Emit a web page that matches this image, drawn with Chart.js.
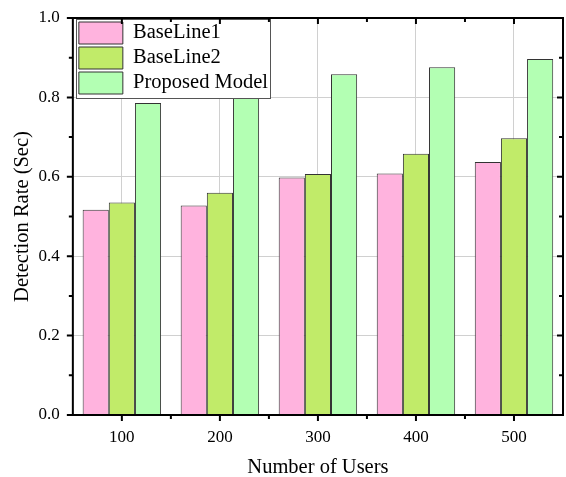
<!DOCTYPE html>
<html>
<head>
<meta charset="utf-8">
<script src="https://cdn.jsdelivr.net/npm/chart.js@4/dist/chart.umd.min.js"></script>
<style>
  html, body { margin: 0; padding: 0; background: #fff; }
  #wrap { width: 566px; height: 477px; }
</style>
</head>
<body>
<div id="wrap"><canvas id="rateChart"></canvas></div>
<script>
const users = ['100', '200', '300', '400', '500'];
const baseline1 = [0.517, 0.528, 0.598, 0.608, 0.637];
const baseline2 = [0.535, 0.560, 0.607, 0.658, 0.697];
const proposed = [0.786, 0.82, 0.858, 0.876, 0.897];
const yTicks = [0, 0.2, 0.4, 0.6, 0.8, 1.0];

const serif = 'Liberation Serif';
const legendFont = 20.5;

// frame, minor/major ticks on all four sides, legend box with white background
const framePlugin = {
  id: 'frame',
  afterLayout(chart) {
    // move the legend into the top-left corner of the plot
    const lg = chart.legend;
    const a = chart.chartArea;
    const w = lg.right - lg.left, h = lg.bottom - lg.top;
    lg.left = a.left + 3; lg.top = a.top + 1;
    lg.right = lg.left + w; lg.bottom = lg.top + h;
  },
  afterDatasetsDraw(chart) {
    const lg = chart.legend;
    const ctx = chart.ctx;
    const bx = lg.left + 3, by = lg.top + 3;
    ctx.save();
    ctx.font = legendFont + 'px "' + serif + '"';
    const tw = Math.max(...chart.data.datasets.map(d => ctx.measureText(d.label).width));
    const x0 = bx - 3, y0 = by - 3;
    const x1 = bx + 44 + legendFont / 2 + tw + 2;
    const y1 = by + 2 * 25.5 + 22 + 3;
    ctx.fillStyle = '#fff';
    ctx.fillRect(x0, y0, x1 - x0, y1 - y0);
    ctx.strokeStyle = '#555';
    ctx.lineWidth = 1;
    ctx.strokeRect(Math.round(x0) + 0.5, Math.round(y0) + 0.5, Math.round(x1 - x0), Math.round(y1 - y0));
    ctx.restore();
    lg.draw();
  },
  afterDraw(chart) {
    const ctx = chart.ctx;
    const a = chart.chartArea;
    const xs = chart.scales.x;
    const ys = chart.scales.y;
    ctx.save();
    ctx.strokeStyle = '#000';
    ctx.lineWidth = 2;
    ctx.strokeRect(a.left, a.top, a.right - a.left, a.bottom - a.top);
    ctx.beginPath();
    for (let i = 0; i <= 10; i++) {
      const py = ys.getPixelForValue(i / 10);
      const len = i % 2 === 0 ? 6 : 4;
      ctx.moveTo(a.left - len, py); ctx.lineTo(a.left, py);
      ctx.moveTo(a.right, py); ctx.lineTo(a.right - len, py);
    }
    for (let i = 0; i < users.length; i++) {
      const px = xs.getPixelForValue(i);
      ctx.moveTo(px, a.bottom); ctx.lineTo(px, a.bottom + 6);
      ctx.moveTo(px, a.top); ctx.lineTo(px, a.top + 6);
      if (i > 0) {
        const mx = (px + xs.getPixelForValue(i - 1)) / 2;
        ctx.moveTo(mx, a.bottom); ctx.lineTo(mx, a.bottom + 4);
        ctx.moveTo(mx, a.top); ctx.lineTo(mx, a.top + 4);
      }
    }
    ctx.stroke();
    ctx.restore();
  }
};

new Chart(document.getElementById('rateChart').getContext('2d'), {
  type: 'bar',
  data: {
    labels: users,
    datasets: [
      { label: 'BaseLine1', data: baseline1, backgroundColor: '#ffb3de', borderColor: '#333', borderWidth: 1 },
      { label: 'BaseLine2', data: baseline2, backgroundColor: '#c1eb69', borderColor: '#333', borderWidth: 1 },
      { label: 'Proposed Model', data: proposed, backgroundColor: '#b3ffb3', borderColor: '#333', borderWidth: 1 }
    ]
  },
  options: {
    responsive: true,
    maintainAspectRatio: false,
    animation: false,
    devicePixelRatio: 1,
    layout: { padding: { top: 18, right: 3, left: 1, bottom: 0 } },
    datasets: { bar: { categoryPercentage: 0.8, barPercentage: 1.0 } },
    plugins: {
      legend: {
        position: 'chartArea',
        align: 'start',
        labels: {
          boxWidth: 44,
          boxHeight: 22,
          padding: 3,
          color: '#000',
          font: { family: serif, size: legendFont }
        }
      },
      tooltip: { enabled: false }
    },
    scales: {
      x: {
        offset: true,
        grid: { offset: false, color: '#d0d0d0', drawTicks: false },
        border: { display: false },
        ticks: { color: '#000', padding: 12, font: { family: serif, size: 17 } },
        title: { display: true, text: 'Number of Users', color: '#000', padding: { top: -4, bottom: -3 }, font: { family: serif, size: 20.5 } }
      },
      y: {
        min: 0,
        max: 1,
        afterBuildTicks(axis) { axis.ticks = yTicks.map(v => ({ value: v })); },
        afterFit(axis) { axis.paddingTop = 10; },
        grid: { color: '#d0d0d0', drawTicks: false },
        border: { display: false },
        ticks: { color: '#000', padding: 13, font: { family: serif, size: 17 }, callback: v => v.toFixed(1) },
        title: { display: true, text: 'Detection Rate (Sec)', color: '#000', padding: { top: 9, bottom: -9 }, font: { family: serif, size: 20.5 } }
      }
    }
  },
  plugins: [framePlugin]
});
</script>
</body>
</html>
